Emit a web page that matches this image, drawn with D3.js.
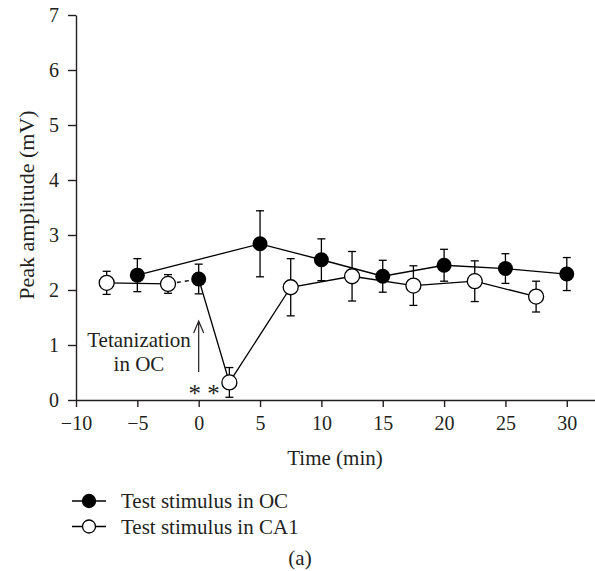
<!DOCTYPE html>
<html>
<head>
<meta charset="utf-8">
<script src="https://cdn.jsdelivr.net/npm/d3@7"></script>
<style>
body{margin:0;background:#fff;}
text{font-family:"Liberation Serif","Times New Roman",serif;fill:#231f20;}
</style>
</head>
<body>
<svg id="chart"></svg>
<script>
// test stimulus in OC (filled circles)
var ocTime = [-5, 0, 5, 10, 15, 20, 25, 30];
var ocMean = [2.27, 2.2, 2.84, 2.55, 2.25, 2.45, 2.39, 2.29];
var ocErr  = [0.3, 0.27, 0.6, 0.38, 0.29, 0.29, 0.27, 0.3];

// test stimulus in CA1 (open circles)
var caTime = [-7.5, -2.5, 2.5, 7.5, 12.5, 17.5, 22.5, 27.5];
var caMean = [2.13, 2.11, 0.32, 2.05, 2.25, 2.08, 2.16, 1.88];
var caErr  = [0.21, 0.17, 0.27, 0.52, 0.45, 0.36, 0.37, 0.28];

var xTicks = [-10, -5, 0, 5, 10, 15, 20, 25, 30];
var yTicks = [0, 1, 2, 3, 4, 5, 6, 7];
var legendLabels = ["Test stimulus in OC", "Test stimulus in CA1"];

var screen = {width:595, height:571};
var fontSize = 21;

var svg = d3.select("#chart")
    .attr("width",screen.width)
    .attr("height",screen.height);

var xScale = d3.scaleLinear().domain([-10,32.3]).range([76,595]);
var yScale = d3.scaleLinear().domain([0,7]).range([400,15]);

var zip = function(t,m,e){
    return t.map(function(d,i){return {t:d, m:m[i], e:e[i]};});
}
var oc = zip(ocTime,ocMean,ocErr);
var ca = zip(caTime,caMean,caErr);

//axes
var xAxis = d3.axisBottom(xScale).tickValues(xTicks).tickFormat(d3.format("d"))
    .tickSize(7).tickSizeOuter(0).tickPadding(9);
var yAxis = d3.axisLeft(yScale).tickValues(yTicks).tickFormat(d3.format("d"))
    .tickSize(8).tickSizeOuter(0).tickPadding(9);

var gx = svg.append("g")
    .attr("transform","translate(0,"+yScale(0)+")")
    .call(xAxis);
var gy = svg.append("g")
    .attr("transform","translate("+xScale(-10)+",0)")
    .call(yAxis);

[gx,gy].forEach(function(g){
    g.select(".domain").attr("stroke","#231f20").attr("stroke-width",1.4);
    g.selectAll(".tick line").attr("stroke","#231f20").attr("stroke-width",1.4);
    g.selectAll(".tick text").attr("font-size",20).attr("font-family","Liberation Serif").attr("fill","#231f20");
});

//labels
svg.append("text")
    .text("Time (min)")
    .attr("text-anchor","middle")
    .attr("font-size",fontSize)
    .attr("x",335)
    .attr("y",465);

svg.append("text")
    .text("Peak amplitude (mV)")
    .attr("text-anchor","middle")
    .attr("font-size",22)
    .attr("transform","translate(34,205) rotate(-90)");

var plot = svg.append("g");

var line = d3.line()
    .x(function(d){return xScale(d.t);})
    .y(function(d){return yScale(d.m);});

// OC line skips the point at time 0
plot.append("path")
    .datum(oc.filter(function(d){return d.t!=0;}))
    .attr("d",line)
    .attr("fill","none").attr("stroke","#000").attr("stroke-width",1.3);

// CA1 line: solid baseline, dashed to tetanization point, then solid on
var ocZero = oc.filter(function(d){return d.t==0;})[0];
plot.append("path")
    .datum(ca.slice(0,2))
    .attr("d",line)
    .attr("fill","none").attr("stroke","#000").attr("stroke-width",1.3);
plot.append("path")
    .datum([ca[1],ocZero])
    .attr("d",line)
    .attr("fill","none").attr("stroke","#000").attr("stroke-width",1.3)
    .attr("stroke-dasharray","4,4").attr("stroke-dashoffset",-1);
plot.append("path")
    .datum([ocZero].concat(ca.slice(2)))
    .attr("d",line)
    .attr("fill","none").attr("stroke","#000").attr("stroke-width",1.3);

//error bars
var drawErr = function(data){
    var g = plot.append("g").selectAll("g").data(data).enter().append("g")
        .attr("stroke","#000").attr("stroke-width",1.3);
    g.append("line")
        .attr("x1",function(d){return xScale(d.t);})
        .attr("x2",function(d){return xScale(d.t);})
        .attr("y1",function(d){return yScale(d.m+d.e);})
        .attr("y2",function(d){return yScale(d.m-d.e);});
    [1,-1].forEach(function(s){
        g.append("line")
            .attr("x1",function(d){return xScale(d.t)-4;})
            .attr("x2",function(d){return xScale(d.t)+4;})
            .attr("y1",function(d){return yScale(d.m+s*d.e);})
            .attr("y2",function(d){return yScale(d.m+s*d.e);});
    });
}
drawErr(oc);
drawErr(ca);

//markers
plot.append("g").selectAll("circle").data(ca).enter().append("circle")
    .attr("cx",function(d){return xScale(d.t);})
    .attr("cy",function(d){return yScale(d.m);})
    .attr("r",7.5)
    .attr("fill","#fff").attr("stroke","#000").attr("stroke-width",1.3);
plot.append("g").selectAll("circle").data(oc).enter().append("circle")
    .attr("cx",function(d){return xScale(d.t);})
    .attr("cy",function(d){return yScale(d.m);})
    .attr("r",7.5)
    .attr("fill","#000");

//annotation
var ann = svg.append("g");
ann.append("text").text("Tetanization")
    .attr("text-anchor","middle").attr("font-size",fontSize)
    .attr("x",139).attr("y",347);
ann.append("text").text("in OC")
    .attr("text-anchor","middle").attr("font-size",fontSize)
    .attr("x",139).attr("y",371);
var ax = xScale(0);
ann.append("path")
    .attr("d","M"+ax+",372 L"+ax+",321 M"+(ax-5)+",333 L"+ax+",321 L"+(ax+5)+",333")
    .attr("fill","none").attr("stroke","#231f20").attr("stroke-width",1.2);
ann.append("text").text("* *")
    .attr("text-anchor","middle").attr("font-size",25)
    .attr("fill","#555")
    .attr("x",204).attr("y",402);

//legend
var legend = svg.append("g");
var rows = legend.selectAll("g").data(legendLabels).enter().append("g")
    .attr("transform",function(d,i){return "translate(0,"+(501+i*25.5)+")";});
rows.append("line").attr("x1",72).attr("x2",106).attr("y1",0).attr("y2",0)
    .attr("stroke","#000").attr("stroke-width",1.3);
rows.append("circle").attr("cx",89).attr("cy",0).attr("r",6.5)
    .attr("fill",function(d,i){return i==0?"#000":"#fff";})
    .attr("stroke","#000").attr("stroke-width",1.3);
rows.append("text").text(function(d){return d;})
    .attr("font-size",fontSize).attr("x",121).attr("y",7);

svg.append("text").text("(a)")
    .attr("text-anchor","middle").attr("font-size",fontSize)
    .attr("x",300).attr("y",565);
</script>
</body>
</html>
